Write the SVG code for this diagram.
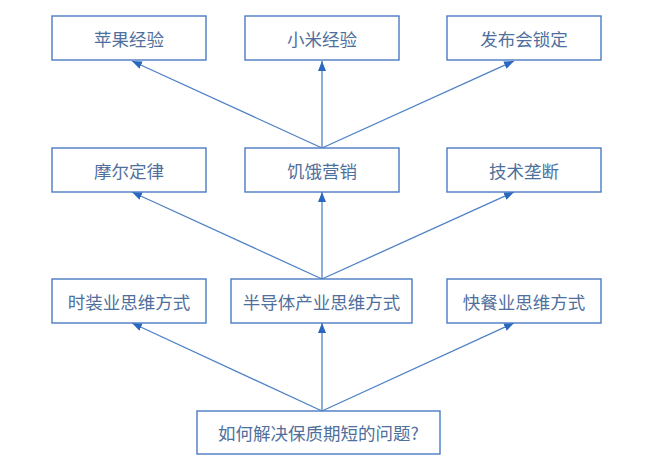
<svg xmlns="http://www.w3.org/2000/svg" width="646" height="465" viewBox="0 0 646 465">
<defs>
<style>
.box{fill:#fff;stroke:#4a7bc4;stroke-width:1.4}
.t{font-family:"Noto Sans CJK SC","Noto Sans",sans-serif;font-size:17.5px;fill:#4f6f9c;text-anchor:middle;dominant-baseline:central}
.c{stroke:#4f82c6;stroke-width:1.3;fill:none;marker-end:url(#ah)}
</style>
<marker id="ah" viewBox="0 0 10 8" refX="10" refY="4" markerWidth="10" markerHeight="8" markerUnits="userSpaceOnUse" orient="auto">
<path d="M0,0 L10,4 L0,8 Z" fill="#2a67bf"/>
</marker>
</defs>
<rect width="646" height="465" fill="#fff"/>
<g id="connectors">
<line class="c" x1="322" y1="148" x2="132" y2="61"/>
<line class="c" x1="322" y1="148" x2="322" y2="61"/>
<line class="c" x1="322" y1="148" x2="514" y2="61"/>
<line class="c" x1="322" y1="279" x2="132" y2="192"/>
<line class="c" x1="322" y1="279" x2="322" y2="192"/>
<line class="c" x1="322" y1="279" x2="514" y2="192"/>
<line class="c" x1="322" y1="411" x2="132" y2="323"/>
<line class="c" x1="322" y1="411" x2="322" y2="323"/>
<line class="c" x1="322" y1="411" x2="514" y2="323"/>
</g>
<g id="n1"><rect class="box" x="52" y="16" width="154" height="44"/><text class="t" x="129" y="38">苹果经验</text></g>
<g id="n2"><rect class="box" x="245" y="16" width="154" height="44"/><text class="t" x="322" y="38">小米经验</text></g>
<g id="n3"><rect class="box" x="447" y="16" width="154" height="44"/><text class="t" x="524" y="38">发布会锁定</text></g>
<g id="n4"><rect class="box" x="52" y="148" width="154" height="44"/><text class="t" x="129" y="170">摩尔定律</text></g>
<g id="n5"><rect class="box" x="245" y="148" width="154" height="44"/><text class="t" x="322" y="170">饥饿营销</text></g>
<g id="n6"><rect class="box" x="447" y="148" width="154" height="44"/><text class="t" x="524" y="170">技术垄断</text></g>
<g id="n7"><rect class="box" x="52" y="279" width="154" height="44"/><text class="t" x="129" y="301">时装业思维方式</text></g>
<g id="n8"><rect class="box" x="231" y="279" width="181" height="44"/><text class="t" x="321.5" y="301">半导体产业思维方式</text></g>
<g id="n9"><rect class="box" x="447" y="279" width="154" height="44"/><text class="t" x="524" y="301">快餐业思维方式</text></g>
<g id="n10"><rect class="box" x="197" y="411" width="243" height="43"/><text class="t" x="318.5" y="432.5">如何解决保质期短的问题?</text></g>
</svg>
